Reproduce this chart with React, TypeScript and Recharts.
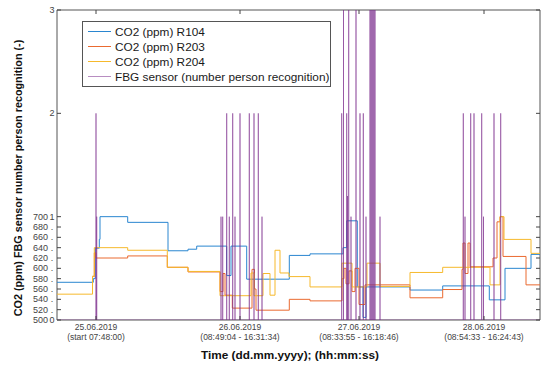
import React from 'react';
import { LineChart, Line, XAxis, YAxis, ReferenceArea } from 'recharts';

// time axis: sample position along the measurement campaign (0 .. 483)
const tMax = 483;
const xTicks = [39, 183, 302, 427];
const xTickDate = ['25.06.2019', '26.06.2019', '27.06.2019', '28.06.2019'];
const xTickTime = ['(start 07:48:00)', '(08:49:04 - 16:31:34)', '(08:33:55 - 16:18:46)', '(08:54:33 - 16:24:43)'];

const co2Ticks = [500, 520, 540, 560, 580, 600, 620, 640, 660, 680, 700];
const fbgTicks = [0, 1, 2, 3];

// CO2 step series: change time / ppm value
const r104T = [0, 36.3, 38.3, 42.3, 43, 70.7, 111, 131, 139.7, 169.7, 174, 189.7, 232.3, 253, 286, 289.7, 300.3, 306, 309, 353, 385.7, 432.3, 448, 474, 483];
const r104V = [573, 580, 639, 656, 700, 689, 634, 637, 643, 586, 643, 579, 625, 628, 640, 692, 564, 505, 564, 558, 566, 539, 600, 627, 627];

const r203T = [36.3, 37.3, 38.8, 70.7, 110.3, 131, 163, 166, 168, 175.3, 193, 195, 197.5, 199, 232.3, 253, 285, 287, 289, 292, 295, 298, 302, 308, 353, 385.7, 405, 406, 408, 411, 413, 436, 440, 443, 446, 469, 483];
const r203V = [584, 630, 620, 624, 602, 593, 555, 590, 548, 523, 523, 598, 560, 519, 540, 537, 580, 600, 570, 595, 555, 600, 530, 568, 543, 559, 598, 649, 590, 649, 603, 620, 690, 700, 623, 568, 568];

const r204T = [0, 35.5, 37.3, 70.7, 110.3, 131, 163, 194, 197, 206, 213, 218, 223, 232, 253, 285, 295, 310, 323, 353, 385.7, 433, 443, 447, 474, 483];
const r204V = [550, 585, 640, 635, 602, 594, 547, 591, 547, 590, 548, 635, 591, 584, 564, 610, 564, 610, 565, 592, 602, 568, 700, 656, 629, 629];

// FBG sensor: detection spikes (time / number of persons)
const fbgT = [39, 39.7, 164, 165.7, 169.7, 172.3, 175.7, 178, 183, 192.3, 197, 201.3, 205, 284.7, 286.5, 289.7, 290.5, 291.7, 294, 299, 303, 306.3, 309, 313, 314, 315, 316, 317, 318, 323, 406.3, 408, 413.7, 417, 424.7, 426.5, 437, 443.7];
const fbgH = [2, 1, 1, 1, 2, 1, 2, 1, 2, 2, 2, 2, 1, 2, 3, 2, 1.2, 3, 1, 3, 2, 2, 1, 3, 3, 3, 3, 3, 3, 1, 2, 1, 2, 2, 2, 1, 2, 2];

const toAxis = (ppm: number) => (ppm - 500) / 200;

const co2Data = (ts: number[], vs: number[]) => ts.map((t, i) => ({ t, v: toAxis(vs[i]) }));

const fbgData = () => {
  const pts = [{ t: 0, v: 0 }];
  fbgT.forEach((t, i) => {
    pts.push({ t, v: fbgH[i] });
    pts.push({ t, v: 0 });
  });
  pts.push({ t: tMax, v: 0 });
  return pts;
};

const series = [
  { name: 'CO2 (ppm) R104', color: '#2a86d0', opacity: 1, data: co2Data(r104T, r104V) },
  { name: 'CO2 (ppm) R203', color: '#ea6a30', opacity: 1, data: co2Data(r203T, r203V) },
  { name: 'CO2 (ppm) R204', color: '#f6b92c', opacity: 1, data: co2Data(r204T, r204V) },
  { name: 'FBG sensor (number person recognition)', color: '#7e2f8e', opacity: 0.55, data: fbgData() },
];

const yTicks = Array.from(new Set([...co2Ticks.map(toAxis), ...fbgTicks])).sort((a, b) => a - b);

const font = 'Liberation Sans, Arial, sans-serif';
const axisColor = '#444';
const plotW = 483;
const plotH = 310;

const YTick = (props: any) => {
  const { x, y, payload } = props;
  const v = payload.value;
  const low = v <= 1.0001;
  return (
    <g>
      <line x1={x} x2={x + 4} y1={y} y2={y} stroke={axisColor} />
      <line x1={x + plotW} x2={x + plotW - 4} y1={y} y2={y} stroke={axisColor} />
      {low && (
        <text x={x - 9} y={y + 3} textAnchor="end" fontSize={9} fill={axisColor} fontFamily={font}>
          {Math.round(500 + v * 200)}
        </text>
      )}
      <text x={x - 5} y={y + 3} textAnchor="middle" fontSize={9} fill={axisColor} fontFamily={font}>
        {Number.isInteger(Math.round(v * 1000) / 1000) ? Math.round(v) : '.'}
      </text>
    </g>
  );
};

const XTick = (props: any) => {
  const { x, y, payload } = props;
  const i = xTicks.indexOf(payload.value);
  return (
    <g>
      <line x1={x} x2={x} y1={y} y2={y - 4} stroke={axisColor} />
      <line x1={x} x2={x} y1={y - plotH} y2={y - plotH + 4} stroke={axisColor} />
      <text x={x} y={y + 10} textAnchor="middle" fontSize={8.5} fill={axisColor} fontFamily={font}>
        {xTickDate[i]}
      </text>
      <text x={x} y={y + 20} textAnchor="middle" fontSize={8.5} fill={axisColor} fontFamily={font}>
        {xTickTime[i]}
      </text>
    </g>
  );
};

export default function App() {
  return (
    <div style={{ position: 'absolute', left: 0, top: 0, width: 550, height: 367, background: '#fff' }}>
      <LineChart width={550} height={367} margin={{ top: 10, right: 10, bottom: 0, left: 0 }}>
        <XAxis
          type="number"
          dataKey="t"
          domain={[0, tMax]}
          ticks={xTicks}
          tick={<XTick />}
          tickSize={0}
          tickMargin={0}
          tickLine={false}
          axisLine={false}
          height={47}
          allowDataOverflow
        />
        <YAxis
          type="number"
          domain={[0, 3]}
          ticks={yTicks}
          tick={<YTick />}
          tickSize={0}
          tickMargin={0}
          tickLine={false}
          axisLine={false}
          width={57}
          interval={0}
          allowDataOverflow
        />
        <ReferenceArea x1={0} x2={tMax} y1={0} y2={3} fill="none" stroke="#555" strokeWidth={1} />
        {series.map((s) => (
          <Line
            key={s.name}
            data={s.data}
            dataKey="v"
            type="stepAfter"
            stroke={s.color}
            strokeOpacity={s.opacity}
            strokeWidth={1}
            dot={false}
            activeDot={false}
            isAnimationActive={false}
          />
        ))}
      </LineChart>
      <svg width={550} height={367} style={{ position: 'absolute', left: 0, top: 0, pointerEvents: 'none' }}>
        <text x={290} y={359} textAnchor="middle" fontSize={11.8} fontWeight="bold" fill="#111" fontFamily={font}>
          Time (dd.mm.yyyy); (hh:mm:ss)
        </text>
        <text transform="translate(22,178) rotate(-90)" textAnchor="middle" fontSize={10.8} fontWeight="bold" fill="#111" fontFamily={font}>
          CO2 (ppm) FBG sensor number person recognition (-)
        </text>
      </svg>
      <div
        style={{
          position: 'absolute',
          left: 82,
          top: 21,
          width: 247,
          height: 62,
          border: '1px solid #555',
          background: '#fff',
          fontFamily: font,
          fontSize: 11.8,
          color: '#1a1a1a',
          paddingTop: 2,
          boxSizing: 'content-box',
        }}
      >
        {series.map((s) => (
          <div key={s.name} style={{ display: 'flex', alignItems: 'center', height: 15 }}>
            <span style={{ display: 'inline-block', width: 23, height: 1, background: s.color, opacity: s.opacity, marginLeft: 5, marginRight: 4 }} />
            <span style={{ whiteSpace: 'nowrap' }}>{s.name}</span>
          </div>
        ))}
      </div>
    </div>
  );
}
